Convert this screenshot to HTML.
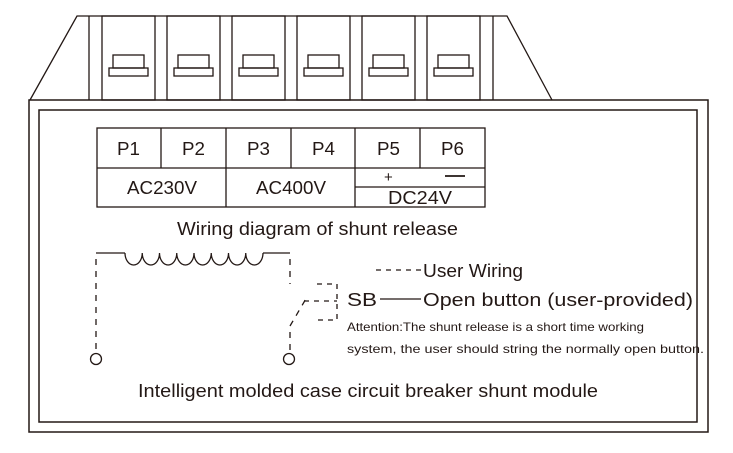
<!DOCTYPE html>
<html><head><meta charset="utf-8"><style>
html,body{margin:0;padding:0;background:#fff;}
svg{display:block;}
text{font-family:"Liberation Sans",Arial,sans-serif;fill:#231815;}
</style></head><body>
<svg width="733" height="453" viewBox="0 0 733 453" xmlns="http://www.w3.org/2000/svg">
<g fill="none" stroke="#231815" stroke-width="1.3">
<path d="M30,100 L77,16 L507,16 L552,100"/>
<line x1="89" y1="16" x2="89" y2="100"/>
<line x1="493" y1="16" x2="493" y2="100"/>
<g id="s">
<rect x="102" y="16" width="53" height="84"/>
<rect x="113" y="55" width="31" height="13"/>
<rect x="109" y="68" width="39" height="8"/>
</g>
<use href="#s" x="65"/><use href="#s" x="130"/><use href="#s" x="195"/><use href="#s" x="260"/><use href="#s" x="325"/>
<rect x="29" y="100" width="679" height="332" stroke-width="1.5"/>
<rect x="39" y="110" width="658" height="312" stroke-width="1.5"/>
<rect x="97" y="128" width="388" height="79"/>
<line x1="97" y1="168" x2="485" y2="168"/>
<line x1="161" y1="128" x2="161" y2="168"/>
<line x1="226" y1="128" x2="226" y2="207"/>
<line x1="291" y1="128" x2="291" y2="168"/>
<line x1="355" y1="128" x2="355" y2="207"/>
<line x1="420" y1="128" x2="420" y2="168"/>
<line x1="355" y1="187" x2="485" y2="187"/>
<line x1="445" y1="176" x2="465" y2="176" stroke-width="1.8"/>
<path d="M96,253 L125,253 M263,253 L290,253"/>
<path d="M125,253 a8.6,12 0 0 0 17.25,0 a8.6,12 0 0 0 17.25,0 a8.6,12 0 0 0 17.25,0 a8.6,12 0 0 0 17.25,0 a8.6,12 0 0 0 17.25,0 a8.6,12 0 0 0 17.25,0 a8.6,12 0 0 0 17.25,0 a8.6,12 0 0 0 17.25,0"/>
<g stroke-dasharray="6,6">
<line x1="96" y1="259" x2="96" y2="352"/>
<line x1="290" y1="259" x2="290" y2="284"/>
<line x1="290" y1="332" x2="290" y2="352"/>
<path d="M290,326 L307,297"/>
</g>
<g stroke-dasharray="5,5">
<path d="M317,284 L337,284 L337,320 L317,320"/>
<line x1="304" y1="301" x2="337" y2="301"/>
<line x1="376" y1="270" x2="421" y2="270"/>
</g>
<circle cx="96" cy="359" r="5.5"/>
<circle cx="289" cy="359" r="5.5"/>
<line x1="380" y1="299" x2="421" y2="299"/>
</g>
<g font-size="18">
<text x="117" y="155" textLength="23" lengthAdjust="spacingAndGlyphs">P1</text>
<text x="182" y="155" textLength="23" lengthAdjust="spacingAndGlyphs">P2</text>
<text x="247" y="155" textLength="23" lengthAdjust="spacingAndGlyphs">P3</text>
<text x="312" y="155" textLength="23" lengthAdjust="spacingAndGlyphs">P4</text>
<text x="377" y="155" textLength="23" lengthAdjust="spacingAndGlyphs">P5</text>
<text x="441" y="155" textLength="23" lengthAdjust="spacingAndGlyphs">P6</text>
<text x="127" y="194" textLength="70" lengthAdjust="spacingAndGlyphs">AC230V</text>
<text x="256" y="194" textLength="70" lengthAdjust="spacingAndGlyphs">AC400V</text>
<text x="388" y="204" textLength="64" lengthAdjust="spacingAndGlyphs">DC24V</text>
<text x="177" y="235" textLength="281" lengthAdjust="spacingAndGlyphs">Wiring diagram of shunt release</text>
<text x="423" y="277" textLength="100" lengthAdjust="spacingAndGlyphs">User Wiring</text>
<text x="347" y="306" textLength="30" lengthAdjust="spacingAndGlyphs">SB</text>
<text x="423" y="306" textLength="270" lengthAdjust="spacingAndGlyphs">Open button (user-provided)</text>
<text x="138" y="397" textLength="460" lengthAdjust="spacingAndGlyphs">Intelligent molded case circuit breaker shunt module</text>
</g>
<text x="384" y="182" font-size="15">+</text>
<text x="347" y="331" font-size="12" textLength="297" lengthAdjust="spacingAndGlyphs">Attention:The shunt release is a short time working</text>
<text x="347" y="353" font-size="12" textLength="357" lengthAdjust="spacingAndGlyphs">system, the user should string the normally open button.</text>
</svg>
</body></html>
